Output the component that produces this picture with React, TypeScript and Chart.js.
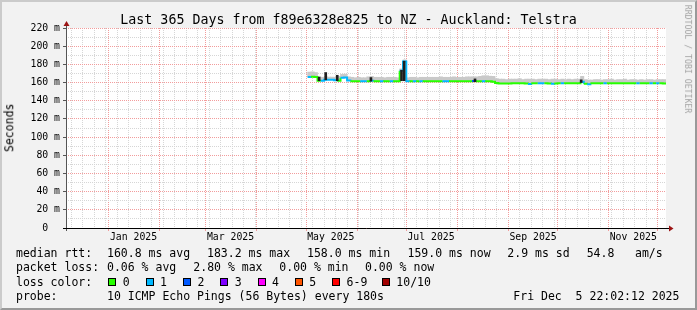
import React, { useEffect, useRef } from 'react';
import { Chart, registerables } from 'chart.js';

Chart.register(...registerables);

// ---- data (x = days since graph start, Thu Dec 5 2024 22:02) ----
const sampleDays = [
  148, 150, 152, 154, 156, 158, 160, 162, 164, 166, 168, 170, 172, 174, 176, 178, 180, 182, 184, 186,
  188, 190, 192, 194, 196, 198, 200, 202, 204, 206, 208, 210, 212, 214, 216, 218, 220, 222, 224, 226,
  228, 230, 232, 234, 236, 238, 240, 242, 244, 246, 248, 250, 252, 254, 256, 258, 260, 262, 264, 266,
  268, 270, 272, 274, 276, 278, 280, 282, 284, 286, 288, 290, 292, 294, 296, 298, 300, 302, 304, 306,
  308, 310, 312, 314, 316, 318, 320, 322, 324, 326, 328, 330, 332, 334, 336, 338, 340, 342, 344, 346,
  348, 350, 352, 354, 356, 358, 360, 362, 364,
];
const medianMs = [
  166.2, 166.5, 166.0, 162.0, 162.0, 163.0, 163.2, 163.2, 162.5, 162.0, 165.2, 165.5, 162.2, 161.3, 161.3, 161.3, 161.5, 161.3, 161.3, 162.0,
  161.3, 161.3, 161.5, 161.3, 161.3, 161.5, 161.3, 161.3, 173.0, 183.2, 161.5, 161.3, 161.5, 161.3, 161.5, 161.3, 161.3, 161.3, 161.3, 161.3,
  161.3, 161.5, 161.5, 161.3, 161.3, 161.3, 161.3, 161.3, 161.3, 161.3, 161.8, 161.3, 161.3, 161.5, 161.3, 161.3, 161.0, 159.5, 159.0, 159.0,
  159.0, 159.0, 159.2, 159.2, 159.2, 159.2, 159.0, 158.5, 159.2, 159.2, 159.2, 159.2, 159.2, 159.0, 158.6, 159.0, 159.2, 159.2, 159.2, 159.2,
  159.2, 159.2, 159.2, 160.8, 158.8, 158.0, 159.2, 159.2, 159.2, 159.2, 159.2, 159.2, 159.2, 159.2, 159.2, 159.2, 159.2, 159.2, 159.2, 159.2,
  159.2, 159.2, 159.2, 159.2, 159.2, 159.2, 159.2, 159.2, 159.0,
];
const smokeTopMs = [
  171.5, 171.8, 171.0, 166.3, 165.8, 166.3, 166.0, 166.0, 165.8, 166.8, 169.0, 169.3, 166.3, 165.8, 165.3, 165.8, 165.3, 165.3, 166.3, 166.8,
  165.8, 165.8, 165.8, 165.3, 165.8, 165.8, 165.8, 165.3, 175.0, 185.0, 165.3, 165.8, 165.8, 165.3, 165.8, 165.8, 165.8, 165.8, 165.8, 165.8,
  166.3, 165.8, 165.8, 165.8, 166.3, 165.8, 165.8, 165.8, 166.3, 166.3, 166.3, 166.3, 166.8, 167.5, 167.5, 167.0, 166.8, 164.3, 163.8, 163.8,
  163.3, 163.8, 163.8, 163.8, 164.3, 163.3, 163.8, 163.8, 163.8, 163.3, 163.8, 163.8, 163.8, 163.3, 163.8, 163.8, 163.3, 163.8, 163.3, 163.8,
  163.3, 163.8, 163.8, 166.8, 163.3, 162.8, 162.8, 163.3, 163.3, 162.8, 163.3, 163.3, 163.8, 162.8, 163.3, 163.3, 163.8, 162.8, 163.3, 163.3,
  162.8, 163.3, 162.8, 163.3, 163.3, 162.8, 163.3, 163.3, 163.3,
];
const lossCount = [
  1, 0, 0, 0, 1, 1, 1, 1, 1, 0, 1, 1, 1, 0, 0, 0, 1, 1, 0, 1,
  0, 0, 1, 0, 0, 1, 0, 0, 1, 1, 1, 0, 1, 0, 1, 0, 0, 0, 0, 0,
  0, 1, 1, 0, 0, 0, 0, 0, 0, 0, 2, 0, 0, 1, 0, 0, 0, 0, 0, 0,
  0, 0, 0, 0, 0, 0, 0, 1, 0, 0, 1, 1, 0, 0, 1, 0, 0, 1, 0, 0,
  0, 0, 0, 1, 0, 1, 0, 0, 0, 0, 1, 0, 0, 0, 0, 0, 0, 0, 0, 0,
  1, 0, 0, 0, 1, 0, 1, 0, 0,
];
// dense (dark) smoke spikes
const spikeDays = [154, 158, 165, 185.5, 204.1, 205.7, 248.8, 313.4];
const spikeLowMs = [162, 163, 162, 161.5, 162, 162, 161, 160];
const spikeHighMs = [166, 171, 168, 165.5, 173.5, 183.5, 164, 163];

// ---- time axis ----
const monthStartDays = [26.082, 57.082, 85.082, 116.082, 146.082, 177.082, 207.082, 238.082, 269.082, 299.082, 330.082, 360.082];
const monthLabelDays = [41.082, 100.082, 161.082, 222.082, 284.082, 345.082];
const monthLabels = ['Jan 2025', 'Mar 2025', 'May 2025', 'Jul 2025', 'Sep 2025', 'Nov 2025'];
const firstMondayDay = 3.082;
const daysInGraph = 365;
const yMaxMs = 220;

// ---- legend ----
const lossColors = ['#26ff00', '#00b8ff', '#0059ff', '#7e00ff', '#ff00ff', '#ff5500', '#ff0000', '#a10000'];
const lossLabels = ['0', '1', '2', '3', '4', '5', '6-9', '10/10'];
const rttStats = ['160.8 ms avg', '183.2 ms max', '158.0 ms min', '159.0 ms now', '2.9 ms sd', '54.8', 'am/s'];
const pktStats = ['0.06 % avg', '2.80 % max', '0.00 % min', '0.00 % now'];

const titleText = 'Last 365 Days from f89e6328e825 to NZ - Auckland: Telstra';
const probeText = '10 ICMP Echo Pings (56 Bytes) every 180s';
const dateText = 'Fri Dec  5 22:02:12 2025';

const MONO = "'DejaVu Sans Mono', monospace";
const GRID_MINOR = '#d6d6d6';
const GRID_MAJOR = '#f29c9c';

type XTick = { value: number; kind: string; text?: string };

function buildXTicks(): XTick[] {
  const ticks: XTick[] = [];
  for (let d = firstMondayDay; d < daysInGraph; d += 7) ticks.push({ value: d, kind: 'week' });
  monthStartDays.forEach((d) => ticks.push({ value: d, kind: 'month' }));
  monthLabelDays.forEach((d, i) => ticks.push({ value: d, kind: 'label', text: monthLabels[i] }));
  ticks.sort((a, b) => a.value - b.value);
  return ticks;
}

const rrdPlugin = {
  id: 'rrdFrame',
  beforeDraw(chart: any) {
    const { ctx, chartArea: a } = chart;
    ctx.save();
    ctx.fillStyle = '#ffffff';
    ctx.fillRect(a.left, a.top, a.right - a.left, a.bottom - a.top);
    ctx.restore();
  },
  afterDatasetsDraw(chart: any) {
    const { ctx, chartArea: a } = chart;
    ctx.save();
    ctx.lineWidth = 1;
    ctx.strokeStyle = '#555555';
    ctx.beginPath();
    ctx.moveTo(a.left + 0.5, a.bottom + 3);
    ctx.lineTo(a.left + 0.5, a.top - 3);
    ctx.stroke();
    ctx.strokeStyle = '#000000';
    ctx.beginPath();
    ctx.moveTo(a.left - 3, a.bottom + 0.5);
    ctx.lineTo(a.right + 4, a.bottom + 0.5);
    ctx.stroke();
    ctx.fillStyle = '#9c1414';
    ctx.beginPath();
    ctx.moveTo(a.left + 0.5, a.top - 7);
    ctx.lineTo(a.left + 3.5, a.top - 2);
    ctx.lineTo(a.left - 2.5, a.top - 2);
    ctx.closePath();
    ctx.fill();
    ctx.beginPath();
    ctx.moveTo(a.right + 7.5, a.bottom + 0.5);
    ctx.lineTo(a.right + 3, a.bottom - 2.5);
    ctx.lineTo(a.right + 3, a.bottom + 3.5);
    ctx.closePath();
    ctx.fill();
    ctx.restore();
  },
};

function Txt(props: { x: number; base: number; size: number; children: any; color?: string }) {
  const { x, base, size, children, color } = props;
  return (
    <div
      style={{
        position: 'absolute',
        left: x,
        top: base - 0.846 * size,
        fontSize: size,
        lineHeight: `${size}px`,
        whiteSpace: 'pre',
        color: color || '#000',
        fontFamily: MONO,
      }}
    >
      {children}
    </div>
  );
}

export default function App() {
  const canvasRef = useRef<HTMLCanvasElement | null>(null);

  useEffect(() => {
    document.body.style.margin = '0';
    const canvas = canvasRef.current;
    if (!canvas) return;

    const last = sampleDays.length - 1;
    const smokeData = sampleDays.map((d, i) => ({ x: d, y: [medianMs[i], smokeTopMs[i]] }));
    const spikeData = spikeDays.map((d, i) => ({ x: d, y: [spikeLowMs[i], spikeHighMs[i]] }));
    const medianData = sampleDays
      .map((d, i) => ({ x: d - 1, y: medianMs[i] }))
      .concat([{ x: sampleDays[last] + 1, y: medianMs[last] }]);

    const chart = new Chart(canvas, {
      type: 'bar',
      data: {
        datasets: [
          {
            type: 'bar',
            label: 'dense smoke',
            data: spikeData as any,
            backgroundColor: '#1e1e1e',
            borderWidth: 0,
            barThickness: 2,
            grouped: false,
            order: 0,
          } as any,
          {
            type: 'line',
            label: 'median rtt',
            data: medianData as any,
            stepped: 'before',
            borderWidth: 2,
            borderColor: lossColors[0],
            borderCapStyle: 'butt',
            pointRadius: 0,
            fill: false,
            order: 1,
            segment: {
              borderColor: (ctx: any) => lossColors[lossCount[Math.min(ctx.p0DataIndex, last)]],
            },
          } as any,
          {
            type: 'bar',
            label: 'smoke',
            data: smokeData as any,
            backgroundColor: '#c9c9c9',
            borderWidth: 0,
            barThickness: 3.4,
            grouped: false,
            order: 2,
          } as any,
        ],
      },
      options: {
        animation: false,
        responsive: false,
        devicePixelRatio: 1,
        layout: { padding: { left: 0, top: 28, right: 31, bottom: 62 } },
        plugins: {
          legend: { display: false },
          tooltip: { enabled: false },
          title: { display: false },
        },
        scales: {
          x: {
            type: 'linear',
            min: 0,
            max: daysInGraph,
            offset: false,
            afterBuildTicks: (scale: any) => {
              scale.ticks = buildXTicks();
            },
            afterFit: (scale: any) => {
              scale.height = 20;
            },
            grid: {
              offset: false,
              drawTicks: true,
              tickLength: 3,
              lineWidth: 1,
              color: (ctx: any) =>
                ctx.tick && ctx.tick.kind === 'month'
                  ? GRID_MAJOR
                  : ctx.tick && ctx.tick.kind === 'week'
                  ? GRID_MINOR
                  : 'rgba(0,0,0,0)',
              tickColor: (ctx: any) => (ctx.tick && ctx.tick.kind === 'month' ? GRID_MAJOR : 'rgba(0,0,0,0)'),
            },
            border: { display: false, dash: [1, 1] },
            ticks: {
              autoSkip: false,
              maxRotation: 0,
              minRotation: 0,
              padding: 1,
              color: '#000',
              font: { family: MONO, size: 9.8 },
              callback: (_v: any, index: number, ticks: any[]) => (ticks[index] && ticks[index].text) || '',
            },
          },
          y: {
            type: 'linear',
            min: 0,
            max: yMaxMs,
            afterFit: (scale: any) => {
              scale.width = 66;
            },
            grid: {
              drawTicks: true,
              tickLength: 3,
              lineWidth: 1,
              color: (ctx: any) => (ctx.tick && ctx.tick.value % 20 === 0 ? GRID_MAJOR : GRID_MINOR),
              tickColor: (ctx: any) => (ctx.tick && ctx.tick.value % 20 === 0 ? '#555555' : 'rgba(0,0,0,0)'),
            },
            border: { display: false, dash: [1, 1] },
            ticks: {
              stepSize: 10,
              autoSkip: false,
              padding: 3,
              color: '#000',
              font: { family: MONO, size: 9.8 },
              callback: (v: any) => {
                const n = Number(v);
                if (n % 20 !== 0) return '';
                return n === 0 ? '0  ' : `${n} m`;
              },
            },
          },
        },
      } as any,
      plugins: [rrdPlugin as any],
    });

    return () => chart.destroy();
  }, []);

  const legendSize = 11.5;
  const rowBase = [258, 272.2, 286.4, 300.6];
  const rttX = [107, 207, 307, 407.5, 507.3, 586.7, 635];
  const pktX = [107, 193.3, 279.3, 365];
  const swatchX = [108.3, 145.6, 182.9, 220.2, 257.5, 294.8, 332.1, 381.8];

  return (
    <div
      style={{
        position: 'relative',
        width: 697,
        height: 310,
        background: '#f2f2f2',
        overflow: 'hidden',
        fontFamily: MONO,
      }}
    >
      <canvas ref={canvasRef} width={697} height={310} style={{ position: 'absolute', left: 0, top: 0, display: 'block' }} />

      <div
        style={{
          position: 'absolute',
          left: 0,
          top: 24.3 - 0.846 * 13.3,
          width: 697,
          textAlign: 'center',
          fontSize: 13.3,
          lineHeight: '13.3px',
          whiteSpace: 'pre',
          color: '#000',
        }}
      >
        {titleText}
      </div>

      <div
        style={{
          position: 'absolute',
          left: 10.3 - 50,
          top: 127.5 - 11.5 / 2,
          width: 100,
          height: 11.5,
          textAlign: 'center',
          fontSize: 11.5,
          lineHeight: '11.5px',
          transform: 'rotate(-90deg)',
          transformOrigin: '50% 50%',
          color: '#000',
        }}
      >
        Seconds
      </div>

      <div
        style={{
          position: 'absolute',
          left: 688 - 70,
          top: 59 - 8.2 / 2,
          width: 140,
          height: 8.2,
          textAlign: 'center',
          fontSize: 8.2,
          lineHeight: '8.2px',
          transform: 'rotate(90deg)',
          transformOrigin: '50% 50%',
          color: '#a3a3a3',
          whiteSpace: 'pre',
        }}
      >
        RRDTOOL / TOBI OETIKER
      </div>

      <Txt x={16} base={rowBase[0]} size={legendSize}>median rtt:</Txt>
      {rttStats.map((s, i) => (
        <Txt key={'r' + i} x={rttX[i]} base={rowBase[0]} size={legendSize}>
          {s}
        </Txt>
      ))}

      <Txt x={16} base={rowBase[1]} size={legendSize}>packet loss:</Txt>
      {pktStats.map((s, i) => (
        <Txt key={'p' + i} x={pktX[i]} base={rowBase[1]} size={legendSize}>
          {s}
        </Txt>
      ))}

      <Txt x={16} base={rowBase[2]} size={legendSize}>loss color:</Txt>
      {lossLabels.map((s, i) => (
        <React.Fragment key={'l' + i}>
          <div
            style={{
              position: 'absolute',
              left: swatchX[i],
              top: 277.5,
              width: 8,
              height: 8,
              boxSizing: 'border-box',
              border: '1px solid #000',
              background: lossColors[i],
            }}
          />
          <Txt x={swatchX[i] + 14.5} base={rowBase[2]} size={legendSize}>
            {s}
          </Txt>
        </React.Fragment>
      ))}

      <Txt x={16} base={rowBase[3]} size={legendSize}>probe:</Txt>
      <Txt x={107} base={rowBase[3]} size={legendSize}>{probeText}</Txt>
      <Txt x={513.3} base={rowBase[3]} size={legendSize}>{dateText}</Txt>

      <div
        style={{
          position: 'absolute',
          left: 0,
          top: 0,
          width: 697,
          height: 310,
          boxSizing: 'border-box',
          borderTop: '2px solid #cbcbcb',
          borderLeft: '2px solid #cbcbcb',
          borderRight: '2px solid #999999',
          borderBottom: '2px solid #999999',
          pointerEvents: 'none',
        }}
      />
    </div>
  );
}
